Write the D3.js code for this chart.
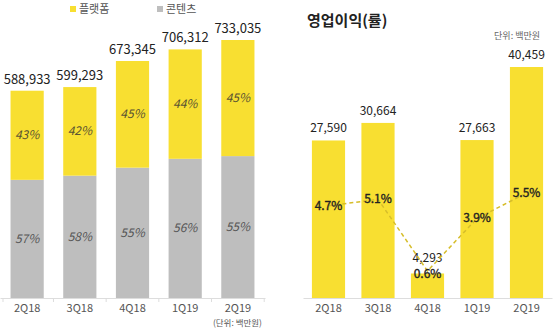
<!DOCTYPE html>
<html><head><meta charset="utf-8">
<script src="https://cdn.jsdelivr.net/npm/d3@7"></script>
<style>
html,body{margin:0;padding:0;background:#fff;}
svg{display:block;font-family:"Noto Sans CJK KR","Noto Sans",sans-serif;}
</style></head>
<body><svg id="c" width="560" height="330"></svg>
<script>
const quarters = ["2Q18","3Q18","4Q18","1Q19","2Q19"];
const revenue = [588933, 599293, 673345, 706312, 733035];
const platformPct = [43, 42, 45, 44, 45];
const contentPct = [57, 58, 55, 56, 55];
const opProfit = [27590, 30664, 4293, 27663, 40459];
const opMargin = [4.7, 5.1, 0.6, 3.9, 5.5];
const legendLabels = ["플랫폼", "콘텐츠"];

const YEL = "#f8df31", GRAY = "#bebebe";
const fmt = d3.format(",");
const svg = d3.select("#c");

// ---------- Left chart ----------
const xL = d3.scaleBand().domain(quarters).range([0, 265]).paddingInner(0.37).paddingOuter(0.2);
const yL = d3.scaleLinear().domain([0, 733035]).range([298, 40]);

const gL = svg.append("g");
gL.selectAll("rect.c").data(quarters).join("rect")
  .attr("x", d => xL(d)).attr("width", xL.bandwidth())
  .attr("y", (d,i) => yL(revenue[i]*contentPct[i]/100))
  .attr("height", (d,i) => yL(0) - yL(revenue[i]*contentPct[i]/100))
  .attr("fill", GRAY);
gL.selectAll("rect.p").data(quarters).join("rect")
  .attr("x", d => xL(d)).attr("width", xL.bandwidth())
  .attr("y", (d,i) => yL(revenue[i]))
  .attr("height", (d,i) => yL(revenue[i]*contentPct[i]/100) - yL(revenue[i]))
  .attr("fill", YEL);
gL.selectAll("text.v").data(quarters).join("text")
  .attr("x", d => xL(d) + xL.bandwidth()/2)
  .attr("y", (d,i) => yL(revenue[i]) - 7)
  .attr("text-anchor","middle").attr("font-size",13).attr("fill","#222")
  .text((d,i) => fmt(revenue[i]));
gL.selectAll("text.pp").data(quarters).join("text")
  .attr("x", d => xL(d) + xL.bandwidth()/2)
  .attr("y", (d,i) => (yL(revenue[i]) + yL(revenue[i]*contentPct[i]/100))/2 + 4)
  .attr("text-anchor","middle").attr("font-size",12).attr("font-style","italic").attr("fill","#5a5432")
  .text((d,i) => platformPct[i] + "%");
gL.selectAll("text.cp").data(quarters).join("text")
  .attr("x", d => xL(d) + xL.bandwidth()/2)
  .attr("y", (d,i) => (yL(0) + yL(revenue[i]*contentPct[i]/100))/2 + 4)
  .attr("text-anchor","middle").attr("font-size",12).attr("font-style","italic").attr("fill","#555")
  .text((d,i) => contentPct[i] + "%");

const axL = gL.append("g").attr("transform","translate(0,298)")
  .call(d3.axisBottom(xL).tickSize(0).tickPadding(6));
axL.select(".domain").attr("stroke","#ddd");
axL.selectAll("text").attr("font-size",11).attr("fill","#555").attr("font-family","'Noto Sans CJK KR',sans-serif");
gL.selectAll("line.t").data(d3.range(quarters.length+1)).join("line")
  .attr("x1", i => i === 0 ? 3 : xL(quarters[i-1]) + xL.bandwidth() + xL.step()*0.37/2)
  .attr("x2", i => i === 0 ? 3 : xL(quarters[i-1]) + xL.bandwidth() + xL.step()*0.37/2)
  .attr("y1",298).attr("y2",302).attr("stroke","#ddd");
gL.append("text").attr("x",262).attr("y",326).attr("text-anchor","end")
  .attr("font-size",8.5).attr("fill","#555").text("(단위: 백만원)");

// legend
const leg = svg.append("g");
[[73, YEL, legendLabels[0]], [160, GRAY, legendLabels[1]]].forEach(([x, c, t]) => {
  leg.append("rect").attr("x",x-3).attr("y",6).attr("width",6).attr("height",6).attr("fill",c);
  leg.append("text").attr("x",x+6).attr("y",13).attr("font-size",11).attr("fill","#555").text(t);
});

// ---------- Right chart ----------
const xR = d3.scaleBand().domain(quarters).range([303, 552]).paddingInner(0.33).paddingOuter(0.18);
const yR = d3.scaleLinear().domain([0, 40459]).range([298, 67]);
const yM = d3.scaleLinear().domain([0, 5.5]).range([280.5, 193]);

const gR = svg.append("g");
gR.append("text").attr("x",307).attr("y",26).attr("font-size",15).attr("font-weight","bold").attr("fill","#222").text("영업이익(률)");
gR.append("text").attr("x",540).attr("y",39).attr("text-anchor","end").attr("font-size",9).attr("fill","#666").text("단위: 백만원");

gR.selectAll("rect").data(quarters).join("rect")
  .attr("x", d => xR(d)).attr("width", xR.bandwidth())
  .attr("y", (d,i) => yR(opProfit[i]))
  .attr("height", (d,i) => yR(0) - yR(opProfit[i]))
  .attr("fill", YEL);
gR.selectAll("text.v").data(quarters).join("text")
  .attr("x", d => xR(d) + xR.bandwidth()/2)
  .attr("y", (d,i) => yR(opProfit[i]) - (i === 2 ? 11 : 8))
  .attr("text-anchor","middle").attr("font-size",12).attr("fill","#222")
  .text((d,i) => fmt(opProfit[i]));

const cx = d => xR(d) + xR.bandwidth()/2;
const line = d3.line().x((d,i) => cx(quarters[i])).y(d => yM(d));
gR.append("path").datum(opMargin).attr("d", line)
  .attr("fill","none").attr("stroke","#d6bd2a").attr("stroke-width",1.5).attr("stroke-dasharray","4,3");
gR.selectAll("text.m").data(quarters).join("text")
  .attr("x", d => cx(d))
  .attr("y", (d,i) => yM(opMargin[i]) + 4 + (i === 2 ? 3 : 0))
  .attr("text-anchor","middle").attr("font-size",12).attr("fill","#222")
  .attr("stroke","#222").attr("stroke-width",0.35)
  .text((d,i) => opMargin[i].toFixed(1) + "%");

const axR = gR.append("g").attr("transform","translate(0,298)")
  .call(d3.axisBottom(xR).tickSize(0).tickPadding(6));
axR.select(".domain").attr("stroke","#ddd");
axR.selectAll("text").attr("font-size",11).attr("fill","#555").attr("font-family","'Noto Sans CJK KR',sans-serif");
</script></body></html>
